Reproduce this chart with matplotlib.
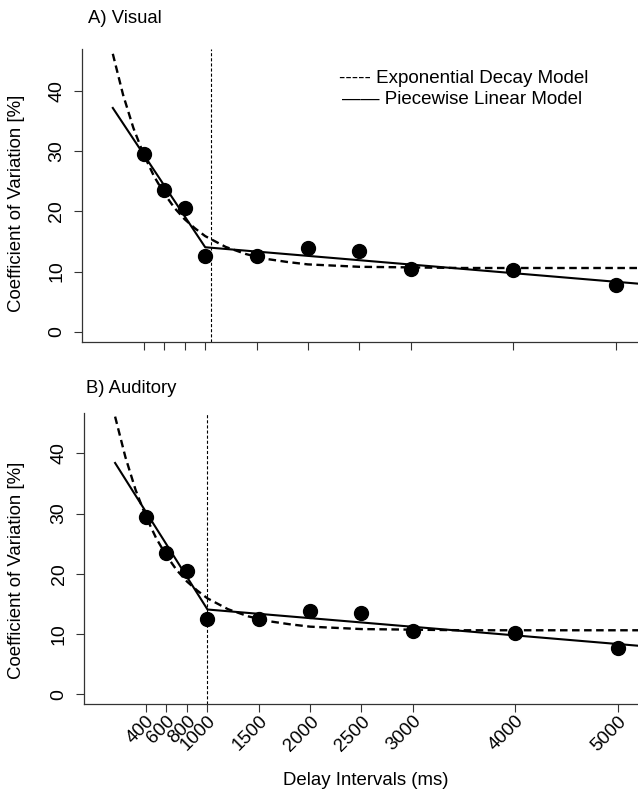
import matplotlib
matplotlib.use("Agg")
import matplotlib.pyplot as plt

plt.rcParams['font.family'] = ['Liberation Sans', 'DejaVu Sans']

# delay intervals (ms) and observed coefficient of variation (%)
delays = [400, 600, 800, 1000, 1500, 2000, 2500, 3000, 4000, 5000]
cv_visual = [29.6, 23.6, 20.6, 12.6, 12.6, 13.85, 13.45, 10.5, 10.25, 7.75]
cv_auditory = [29.4, 23.5, 20.5, 12.5, 12.5, 13.8, 13.4, 10.5, 10.1, 7.7]

# piecewise linear fits (start, breakpoint, end)
pw_x = [100, 1000, 5216]
pw_visual = [37.2, 14.05, 8.0]
pw_auditory = [38.4, 14.05, 8.0]

# exponential decay fits
exp_x = [100, 200, 300, 400, 500, 600, 700, 800, 900, 1000, 1200, 1400,
         1600, 1800, 2000, 2500, 3000, 3500, 4000, 4500, 5000, 5216]
exp_visual = [46.2, 39.4, 33.9, 29.5, 25.9, 23.0, 20.6, 18.7, 17.2, 15.9, 14.1, 12.9,
              12.1, 11.6, 11.2, 10.8, 10.7, 10.6, 10.6, 10.6, 10.6, 10.6]
exp_auditory = [46.1, 39.4, 33.9, 29.5, 25.9, 23.0, 20.6, 18.7, 17.2, 15.9, 14.1, 12.9,
                12.1, 11.6, 11.2, 10.8, 10.7, 10.6, 10.6, 10.6, 10.6, 10.6]

# estimated breakpoints (vertical reference lines)
break_visual = 1055
break_auditory = 1000

yticks = [0, 10, 20, 30, 40]
xticks = [400, 600, 800, 1000, 1500, 2000, 2500, 3000, 4000, 5000]

W, H = 638, 790
fig = plt.figure(figsize=(W / 100, H / 100), dpi=100)


def px_axes(left, top, right, bottom):
    return fig.add_axes([left / W, 1 - bottom / H, (right - left) / W, (bottom - top) / H])


def draw_panel(ax, cv, pw, ex, brk, ylim, show_labels):
    ax.plot(exp_x, ex, color='black', lw=1.7, linestyle=(0, (3.2, 1.9)))
    ax.plot(pw_x, pw, color='black', lw=1.5)
    ax.plot(delays, cv, 'o', color='black', markersize=10)
    ax.axvline(brk, color='black', lw=0.8, linestyle=(0, (2.8, 1.8)))
    ax.set_xlim(-200, 5216)
    ax.set_ylim(*ylim)
    ax.spines['top'].set_visible(False)
    ax.spines['right'].set_visible(False)
    for side in ('left', 'bottom'):
        ax.spines[side].set_color('#333333')
        ax.spines[side].set_linewidth(0.9)
    ax.set_yticks(yticks)
    ax.set_xticks(xticks)
    ax.tick_params(length=6, width=0.8, color='#333333', labelsize=13.5, direction='out')
    ax.tick_params(axis='y', pad=6, labelsize=14)
    for lab in ax.get_yticklabels():
        lab.set_rotation(90)
        lab.set_va('center')
    if show_labels:
        ax.set_xticklabels([str(t) for t in xticks], rotation=45, ha='right',
                           va='top', rotation_mode='anchor')
        ax.tick_params(axis='x', pad=0)
    else:
        ax.set_xticklabels([])
    ax.set_ylabel('Coefficient of Variation [%]', fontsize=13.4)


axA = px_axes(82, 49, 638, 342)
draw_panel(axA, cv_visual, pw_visual, exp_visual, break_visual, (-1.7, 47.0), False)
axA.yaxis.set_label_coords(-0.1025, 0.474)

axB = px_axes(84.3, 412.7, 640.3, 704.3)
draw_panel(axB, cv_auditory, pw_auditory, exp_auditory, break_auditory, (-1.7, 46.75), True)
axB.yaxis.set_label_coords(-0.1067, 0.46)

fig.text(88 / W, 1 - 23.3 / H, 'A) Visual', fontsize=13.3, ha='left', va='baseline')
fig.text(86 / W, 1 - 393 / H, 'B) Auditory', fontsize=13.3, ha='left', va='baseline')

# legend drawn as centered text lines, as in the original figure
fig.text(464 / W, 1 - 83 / H, '----- Exponential Decay Model', fontsize=13.5,
         ha='center', va='baseline')
fig.text(462 / W, 1 - 104.5 / H, '\u2014\u2014 Piecewise Linear Model', fontsize=13.5,
         ha='center', va='baseline')

fig.text(365.5 / W, 1 - 785 / H, 'Delay Intervals (ms)', fontsize=13.4,
         ha='center', va='baseline')

fig.savefig('out.png', dpi=100)
